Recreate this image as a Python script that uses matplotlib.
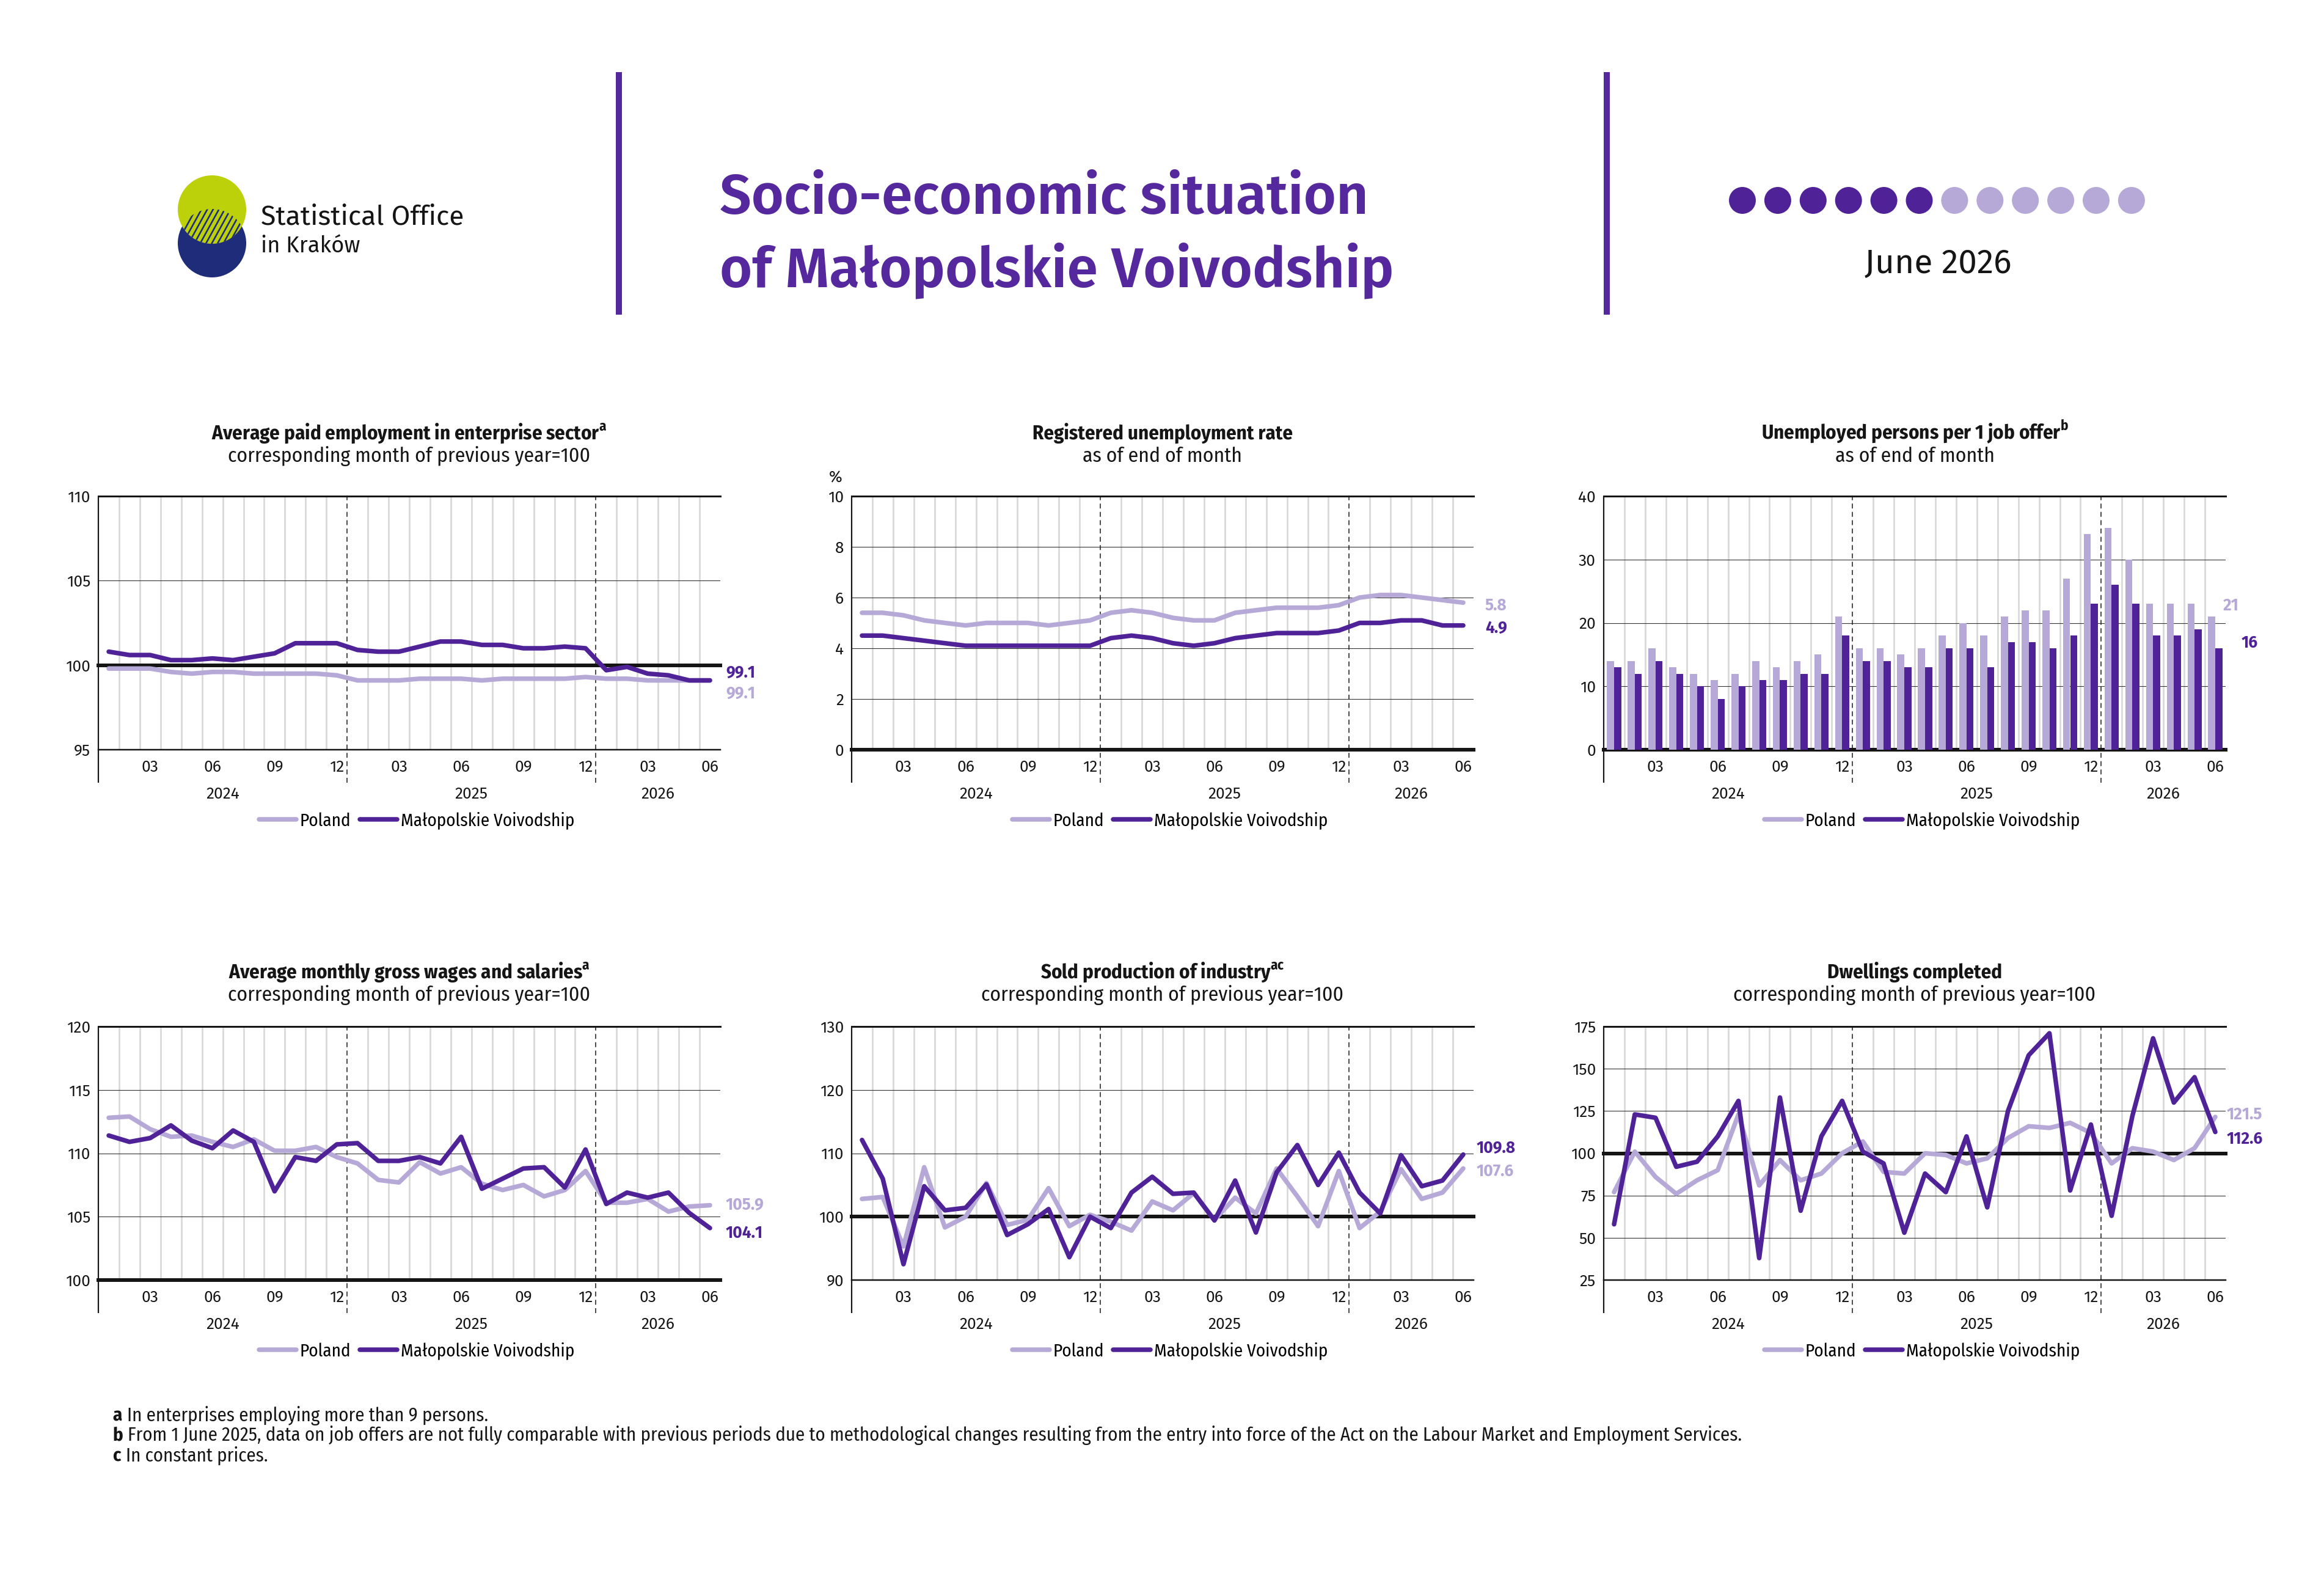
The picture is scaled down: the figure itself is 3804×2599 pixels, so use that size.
import numpy as np
import matplotlib
matplotlib.use("Agg")
import matplotlib.pyplot as plt
import matplotlib.transforms as mtransforms
from matplotlib import font_manager
from matplotlib.lines import Line2D
from matplotlib.patches import Circle, PathPatch
from matplotlib.path import Path

# ---------------------------------------------------------------- data
months = ["2024-01", "2024-02", "2024-03", "2024-04", "2024-05", "2024-06",
          "2024-07", "2024-08", "2024-09", "2024-10", "2024-11", "2024-12",
          "2025-01", "2025-02", "2025-03", "2025-04", "2025-05", "2025-06",
          "2025-07", "2025-08", "2025-09", "2025-10", "2025-11", "2025-12",
          "2026-01", "2026-02", "2026-03", "2026-04", "2026-05", "2026-06"]
series_names = ["Poland", "Małopolskie Voivodship"]
report_label = "June 2026"

employment_poland = [99.8, 99.8, 99.8, 99.6, 99.5, 99.6, 99.6, 99.5, 99.5, 99.5, 99.5, 99.4,
                     99.1, 99.1, 99.1, 99.2, 99.2, 99.2, 99.1, 99.2, 99.2, 99.2, 99.2, 99.3,
                     99.2, 99.2, 99.1, 99.1, 99.1, 99.1]
employment_malopolska = [100.8, 100.6, 100.6, 100.3, 100.3, 100.4, 100.3, 100.5, 100.7, 101.3, 101.3, 101.3,
                         100.9, 100.8, 100.8, 101.1, 101.4, 101.4, 101.2, 101.2, 101.0, 101.0, 101.1, 101.0,
                         99.7, 99.9, 99.5, 99.4, 99.1, 99.1]

unemployment_poland = [5.4, 5.4, 5.3, 5.1, 5.0, 4.9, 5.0, 5.0, 5.0, 4.9, 5.0, 5.1,
                       5.4, 5.5, 5.4, 5.2, 5.1, 5.1, 5.4, 5.5, 5.6, 5.6, 5.6, 5.7,
                       6.0, 6.1, 6.1, 6.0, 5.9, 5.8]
unemployment_malopolska = [4.5, 4.5, 4.4, 4.3, 4.2, 4.1, 4.1, 4.1, 4.1, 4.1, 4.1, 4.1,
                           4.4, 4.5, 4.4, 4.2, 4.1, 4.2, 4.4, 4.5, 4.6, 4.6, 4.6, 4.7,
                           5.0, 5.0, 5.1, 5.1, 4.9, 4.9]

job_offer_poland = [14, 14, 16, 13, 12, 11, 12, 14, 13, 14, 15, 21,
                    16, 16, 15, 16, 18, 20, 18, 21, 22, 22, 27, 34,
                    35, 30, 23, 23, 23, 21]
job_offer_malopolska = [13, 12, 14, 12, 10, 8, 10, 11, 11, 12, 12, 18,
                        14, 14, 13, 13, 16, 16, 13, 17, 17, 16, 18, 23,
                        26, 23, 18, 18, 19, 16]

wages_poland = [112.8, 112.9, 111.9, 111.3, 111.4, 110.9, 110.5, 111.1, 110.2, 110.2, 110.5, 109.7,
                109.2, 107.9, 107.7, 109.3, 108.4, 108.9, 107.6, 107.1, 107.5, 106.6, 107.1, 108.6,
                106.1, 106.1, 106.4, 105.4, 105.8, 105.9]
wages_malopolska = [111.4, 110.9, 111.2, 112.2, 111.0, 110.4, 111.8, 110.9, 107.0, 109.7, 109.4, 110.7,
                    110.8, 109.4, 109.4, 109.7, 109.2, 111.3, 107.2, 108.0, 108.8, 108.9, 107.3, 110.3,
                    106.0, 106.9, 106.5, 106.9, 105.3, 104.1]

production_poland = [102.8, 103.1, 95.3, 107.8, 98.3, 100.0, 105.3, 98.7, 99.5, 104.5, 98.5, 100.3,
                     99.2, 97.8, 102.4, 101.0, 103.7, 99.5, 103.0, 100.5, 107.6, 103.2, 98.5, 107.2,
                     98.2, 100.8, 107.5, 102.8, 103.8, 107.6]
production_malopolska = [112.1, 106.0, 92.5, 104.8, 101.0, 101.4, 105.1, 97.1, 98.8, 101.2, 93.6, 100.0,
                         98.2, 103.8, 106.3, 103.6, 103.8, 99.4, 105.7, 97.5, 107.0, 111.3, 105.0, 110.1,
                         103.8, 100.5, 109.7, 104.8, 105.7, 109.8]

dwellings_poland = [77, 101, 86, 76, 84, 90, 123, 81, 96, 84, 88, 100,
                    107, 89, 88, 100, 99, 94, 97, 109, 116, 115, 118, 112,
                    94, 103, 101, 96, 103, 121.5]
dwellings_malopolska = [58, 123, 121, 92, 95, 110, 131, 38, 133, 66, 110, 131,
                        101, 94, 53, 88, 77, 110, 68, 125, 158, 171, 78, 117,
                        63, 122, 168, 130, 145, 112.6]

footnotes = [
    ("a", "In enterprises employing more than 9 persons."),
    ("b", "From 1 June 2025, data on job offers are not fully comparable with previous periods due to "
          "methodological changes resulting from the entry into force of the Act on the Labour Market "
          "and Employment Services."),
    ("c", "In constant prices."),
]

# ---------------------------------------------------------------- style
def pick(*names):
    avail = {f.name for f in font_manager.fontManager.ttflist}
    for n in names:
        if n in avail:
            return n
    return "DejaVu Sans"

CHART_FONT = pick("Fira Sans Condensed", "Roboto Condensed", "Lato")
TITLE_FONT = pick("Fira Sans", "Open Sans", "Lato")
TICK_FONT = pick("Fira Sans", "Lato")
LOGO_FONT = pick("Myriad Pro", "Fira Sans", "Open Sans", "Lato")
FOOT_FONT = pick("Fira Sans Condensed", "Roboto Condensed", "Open Sans")
plt.rcParams["font.family"] = [CHART_FONT, "DejaVu Sans"]

DARK = "#4F2397"
LIGHT = "#B6A8D7"
PURPLE = "#55289E"
YEL = "#BDD10B"
BLU = "#1F2C7A"
INK = "#151515"

W, H = 3804, 2599
DPI = 100
PX = 72.0 / DPI  # points per pixel

fig = plt.figure(figsize=(W / DPI, H / DPI), dpi=DPI)
fig.patch.set_facecolor("white")
bg = fig.add_axes([0, 0, 1, 1], zorder=0)
bg.set_xlim(0, W)
bg.set_ylim(H, 0)
bg.axis("off")
renderer = fig.canvas.get_renderer()


def fit(t, target_w):
    w = t.get_window_extent(renderer).width
    t.set_fontsize(t.get_fontsize() * target_w / w)
    return t.get_fontsize()


# ---------------------------------------------------------------- header
# logo
lx, ly_y, ly_b, lr = 347, 343, 398, 56
bg.add_patch(Circle((lx, ly_b), lr, color=BLU, lw=0))
bg.add_patch(Circle((lx, ly_y), lr, color=YEL, lw=0))
hh = (ly_b - ly_y) / 2.0
t0 = np.arcsin(hh / lr)
th = np.linspace(t0, np.pi - t0, 60)
ph = np.linspace(np.pi + t0, 2 * np.pi - t0, 60)
verts = np.vstack([np.c_[lx + lr * np.cos(th), ly_y + lr * np.sin(th)],
                   np.c_[lx + lr * np.cos(ph), ly_b + lr * np.sin(ph)]])
lens = PathPatch(Path(np.vstack([verts, verts[:1]]), closed=True),
                 transform=bg.transData, facecolor="none", edgecolor="none")
bg.add_patch(lens)
ym = (ly_y + ly_b) / 2.0
for off in np.arange(-80, 81, 9.5):
    ln, = bg.plot([lx + off - 0.55 * 60, lx + off + 0.55 * 60], [ym + 60, ym - 60],
                  color=BLU, lw=2.6 * PX, solid_capstyle="butt")
    ln.set_clip_path(lens)

t = bg.text(427, 367, "Statistical Office", family=LOGO_FONT, fontsize=30, color=INK,
            ha="left", va="baseline")
fit(t, 332)
t = bg.text(427, 413, "in Kraków", family=LOGO_FONT, fontsize=22, color=INK,
            ha="left", va="baseline")
fit(t, 162)

# separators
for xb in (1013, 2630):
    bg.plot([xb, xb], [118, 515], color=PURPLE, lw=10 * PX, solid_capstyle="butt")

# main title
t1 = bg.text(1178, 350, "Socio-economic situation", family=TITLE_FONT, fontsize=70,
             weight="semibold", color=PURPLE, ha="left", va="baseline")
fs_title = fit(t1, 1063)
bg.text(1178, 469, "of Małopolskie Voivodship", family=TITLE_FONT, fontsize=fs_title,
        weight="semibold", color=PURPLE, ha="left", va="baseline")

# month dots
report_month = int(months[-1][5:])
for i in range(12):
    bg.add_patch(Circle((2852 + i * 57.9, 328), 22, lw=0,
                        color=DARK if i < report_month else LIGHT))
t = bg.text(3172, 446, report_label, family=TITLE_FONT, fontsize=36, color=INK,
            ha="center", va="baseline")
fit(t, 240)

# ---------------------------------------------------------------- panels
x = np.arange(len(months))
tick_idx = [i for i, m in enumerate(months) if m[5:] in ("03", "06", "09", "12")]
tick_txt = [months[i][5:] for i in tick_idx]
year_breaks = [i + 0.5 for i in range(len(months) - 1) if months[i][:4] != months[i + 1][:4]]
years = sorted({m[:4] for m in months})
year_centers = [np.mean([i for i, m in enumerate(months) if m[:4] == y]) for y in years]

FS = 19
FS_LEG = 21
COL_LEFT = [161, 1394, 2625]
AW = 1018
ROW_TOP = [812, 1680]
AH = 415
TITLE_BASE = [(719, 756), (1601, 1638)]
EXT = -54.0 / AH
LW = 7.5 * PX

panels = [
    dict(title="Average paid employment in enterprise sector", sup="a",
         sub="corresponding month of previous year=100", kind="line",
         pol=employment_poland, mal=employment_malopolska,
         ylim=(95, 110), yticks=[95, 100, 105, 110], base=100,
         off_pol=(9, -22), off_mal=(9, 12), unit=None),
    dict(title="Registered unemployment rate", sup=None, sub="as of end of month", kind="line",
         pol=unemployment_poland, mal=unemployment_malopolska,
         ylim=(0, 10), yticks=[0, 2, 4, 6, 8, 10], base=0,
         off_pol=(19, -5), off_mal=(19, -4), unit="%"),
    dict(title="Unemployed persons per 1 job offer", sup="b", sub="as of end of month", kind="bar",
         pol=job_offer_poland, mal=job_offer_malopolska,
         ylim=(0, 40), yticks=[0, 10, 20, 30, 40], base=0,
         off_pol=(-4, 18), off_mal=(26, 9), unit=None),
    dict(title="Average monthly gross wages and salaries", sup="a",
         sub="corresponding month of previous year=100", kind="line",
         pol=wages_poland, mal=wages_malopolska,
         ylim=(100, 120), yticks=[100, 105, 110, 115, 120], base=100,
         off_pol=(9, 0), off_mal=(9, -8), unit=None),
    dict(title="Sold production of industry", sup="ac",
         sub="corresponding month of previous year=100", kind="line",
         pol=production_poland, mal=production_malopolska,
         ylim=(90, 130), yticks=[90, 100, 110, 120, 130], base=100,
         off_pol=(5, -5), off_mal=(5, 10), unit=None),
    dict(title="Dwellings completed", sup=None,
         sub="corresponding month of previous year=100", kind="line",
         pol=dwellings_poland, mal=dwellings_malopolska,
         ylim=(25, 175), yticks=[25, 50, 75, 100, 125, 150, 175], base=100,
         off_pol=(2, 4), off_mal=(2, -12), unit=None),
]

fs_ptitle = None
fs_psub = None
for k, spec in enumerate(panels):
    row, col = divmod(k, 3)
    left, top = COL_LEFT[col], ROW_TOP[row]
    ax = fig.add_axes([left / W, 1 - (top + AH) / H, AW / W, AH / H], zorder=2)
    ax.patch.set_alpha(0)
    lo, hi = spec["ylim"]
    ax.set_xlim(-0.5, len(months) - 0.5)
    ax.set_ylim(lo, hi)
    for s in ax.spines.values():
        s.set_visible(False)
    trans = mtransforms.blended_transform_factory(ax.transData, ax.transAxes)

    for b in x[:-1] + 0.5:
        if b in year_breaks:
            ax.plot([b, b], [EXT, 1], transform=trans, color="#222222", lw=1.6 * PX,
                    ls=(0, (5, 3.5)), clip_on=False, zorder=1.5)
        else:
            ax.axvline(b, color="#DADADA", lw=2.8 * PX, zorder=0.5)
    ax.plot([-0.5, -0.5], [EXT, 1], transform=trans, color=INK, lw=2.2 * PX,
            clip_on=False, zorder=2, solid_capstyle="butt")
    for yt in spec["yticks"][1:-1]:
        if yt != spec["base"]:
            ax.axhline(yt, color="#333333", lw=1.1 * PX, zorder=1)
    ax.axhline(hi, color=INK, lw=3 * PX, zorder=2, clip_on=False)
    if lo != spec["base"]:
        ax.axhline(lo, color=INK, lw=2.5 * PX, zorder=2, clip_on=False)
    ax.axhline(spec["base"], color=INK, lw=6 * PX, zorder=2.5, clip_on=False)

    if spec["kind"] == "bar":
        ax.bar(x - 0.17, spec["pol"], 0.34, color=LIGHT, lw=0, zorder=3)
        ax.bar(x + 0.17, spec["mal"], 0.34, color=DARK, lw=0, zorder=3.1)
    else:
        ax.plot(x, spec["pol"], color=LIGHT, lw=LW, solid_joinstyle="round",
                solid_capstyle="round", zorder=3)
        ax.plot(x, spec["mal"], color=DARK, lw=LW, solid_joinstyle="round",
                solid_capstyle="round", zorder=4)

    ax.set_yticks(spec["yticks"])
    ax.set_yticklabels([f"{v:g}" for v in spec["yticks"]])
    ax.tick_params(axis="y", length=0, pad=13 * PX, labelsize=FS, labelcolor=INK)
    ax.set_xticks(tick_idx)
    ax.set_xticklabels(tick_txt)
    ax.tick_params(axis="x", length=0, pad=16 * PX, labelsize=FS, labelcolor=INK)
    for lbl in ax.get_xticklabels() + ax.get_yticklabels():
        lbl.set_family(TICK_FONT)
    for yr, yc in zip(years, year_centers):
        ax.text(yc, -80.0 / AH, yr, transform=trans, ha="center", va="baseline",
                fontsize=FS, color=INK, family=TICK_FONT)

    handles = [Line2D([], [], color=LIGHT, lw=LW, solid_capstyle="round"),
               Line2D([], [], color=DARK, lw=LW, solid_capstyle="round")]
    ax.legend(handles, series_names, loc="center", bbox_to_anchor=(0.512, -116.0 / AH),
              ncol=2, frameon=False, fontsize=FS_LEG, handlelength=2.1, handletextpad=0.2,
              columnspacing=0.5, borderaxespad=0, borderpad=0)

    for vals, colr, (dx, dy) in ((spec["pol"], LIGHT, spec["off_pol"]),
                                 (spec["mal"], DARK, spec["off_mal"])):
        v = vals[-1]
        ax.annotate(f"{v:g}", xy=(1, v), xycoords=("axes fraction", "data"),
                    xytext=(dx * PX, dy * PX), textcoords="offset points",
                    ha="left", va="center", fontsize=FS, fontweight="bold",
                    family=TICK_FONT, color=colr, annotation_clip=False, zorder=5)

    if spec["unit"]:
        bg.text(left - 26, top - 30, spec["unit"], ha="center", va="center",
                fontsize=FS, color=INK, family=TICK_FONT)

    cx = left + AW / 2.0
    tb, sb = TITLE_BASE[row]
    ttl = spec["title"] + (r"$^{\mathregular{%s}}$" % spec["sup"] if spec["sup"] else "")
    tt = bg.text(cx, tb, ttl, ha="center", va="baseline", fontsize=19,
                 fontweight="bold", color=INK)
    if fs_ptitle is None:
        fs_ptitle = fit(tt, 648)
    tt.set_fontsize(fs_ptitle)
    st = bg.text(cx, sb, spec["sub"], ha="center", va="baseline", fontsize=19, color=INK)
    if fs_psub is None:
        fs_psub = fit(st, 591)
    st.set_fontsize(fs_psub)

# ---------------------------------------------------------------- footnotes
fn_x = 184
fn_base = [2326, 2358, 2392]
items = []
for (letter, text), yb in zip(footnotes, fn_base):
    lt = bg.text(fn_x, yb, letter, family=FOOT_FONT, fontsize=17, fontweight="bold",
                 color=INK, ha="left", va="baseline")
    items.append((lt, text, yb))
lt_b, text_b, yb_b = items[1]
probe = bg.text(fn_x + 20, yb_b, text_b, family=FOOT_FONT, fontsize=17, color=INK,
                ha="left", va="baseline")
fs_fn = fit(probe, 2844 - fn_x - 20)
probe.remove()
for lt, text, yb in items:
    lt.set_fontsize(fs_fn)
    wl = lt.get_window_extent(renderer).width
    bg.text(fn_x + wl + fs_fn / PX * 0.28, yb, text, family=FOOT_FONT, fontsize=fs_fn,
            color=INK, ha="left", va="baseline")

fig.savefig("out.png", dpi=DPI, facecolor="white")
